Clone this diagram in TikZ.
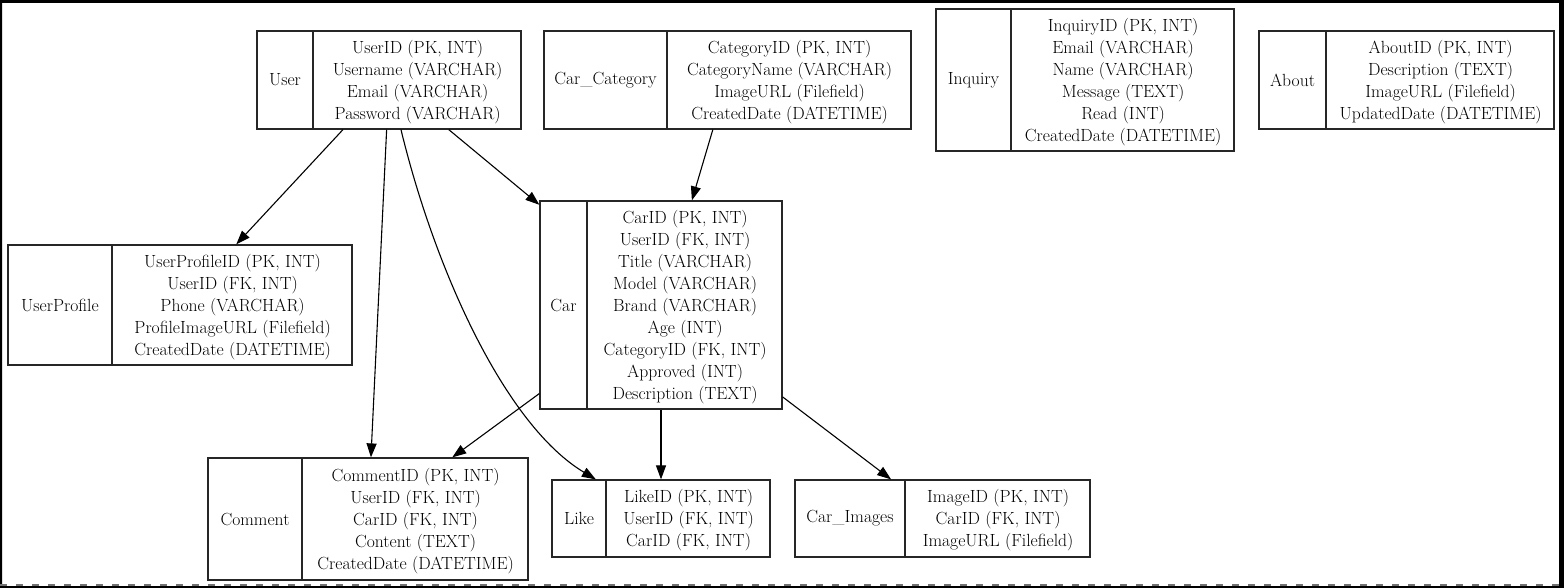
\documentclass[tikz,border=0pt]{standalone}
\usetikzlibrary{arrows.meta, positioning, calc}

\begin{document}
\begin{tikzpicture}[x=1pt, y=-1pt,
        every node/.style={font=\fontsize{17.6pt}{22pt}\selectfont},
        tbl/.style={draw=black!85, line width=1.2pt, rectangle, inner sep=0pt},
        lbl/.style={draw=black!85, line width=1.2pt, rectangle, inner sep=0pt, anchor=west},
        fld/.style={inner sep=0pt, align=center, yshift=-2pt},
        rel/.style={-{Triangle[length=14pt, width=10pt]}, line width=1.1pt}]
        % Frame
        \useasboundingbox (0,0) rectangle (1564,588);
        \fill[black, even odd rule] (0,0) rectangle (1564,588) (2,3) rectangle (1559,586);
        \draw[black!55, line width=2pt, dash pattern=on 7pt off 9pt] (0,585) -- (1559,585);

        % Tables
        \node[tbl, minimum width=264pt, minimum height=98pt] (user) at (389,80) {};
        \node[lbl, minimum width=56pt, minimum height=98pt] (userL) at (user.west) {User};
        \node[fld] (userF) at ($(userL.east)!0.5!(user.east)$) {
            UserID (PK, INT)\\
            Username (VARCHAR)\\
            Email (VARCHAR)\\
            Password (VARCHAR)
        };

        \node[tbl, minimum width=367pt, minimum height=98pt] (ccat) at (727.5,80) {};
        \node[lbl, minimum width=123pt, minimum height=98pt] (ccatL) at (ccat.west) {Car\_Category};
        \node[fld] (ccatF) at ($(ccatL.east)!0.5!(ccat.east)$) {
            CategoryID (PK, INT)\\
            CategoryName (VARCHAR)\\
            ImageURL (Filefield)\\
            CreatedDate (DATETIME)
        };

        \node[tbl, minimum width=298pt, minimum height=142pt] (inq) at (1085,80) {};
        \node[lbl, minimum width=75pt, minimum height=142pt] (inqL) at (inq.west) {Inquiry};
        \node[fld] (inqF) at ($(inqL.east)!0.5!(inq.east)$) {
            InquiryID (PK, INT)\\
            Email (VARCHAR)\\
            Name (VARCHAR)\\
            Message (TEXT)\\
            Read (INT)\\
            CreatedDate (DATETIME)
        };

        \node[tbl, minimum width=295pt, minimum height=98pt] (about) at (1406.5,80) {};
        \node[lbl, minimum width=67pt, minimum height=98pt] (aboutL) at (about.west) {About};
        \node[fld] (aboutF) at ($(aboutL.east)!0.5!(about.east)$) {
            AboutID (PK, INT)\\
            Description (TEXT)\\
            ImageURL (Filefield)\\
            UpdatedDate (DATETIME)
        };

        \node[tbl, minimum width=344pt, minimum height=120pt] (uprof) at (180,305) {};
        \node[lbl, minimum width=104pt, minimum height=120pt] (uprofL) at (uprof.west) {UserProfile};
        \node[fld] (uprofF) at ($(uprofL.east)!0.5!(uprof.east)$) {
            UserProfileID (PK, INT)\\
            UserID (FK, INT)\\
            Phone (VARCHAR)\\
            ProfileImageURL (Filefield)\\
            CreatedDate (DATETIME)
        };

        \node[tbl, minimum width=242pt, minimum height=208pt] (car) at (661,305) {};
        \node[lbl, minimum width=47pt, minimum height=208pt] (carL) at (car.west) {Car};
        \node[fld] (carF) at ($(carL.east)!0.5!(car.east)$) {
            CarID (PK, INT)\\
            UserID (FK, INT)\\
            Title (VARCHAR)\\
            Model (VARCHAR)\\
            Brand (VARCHAR)\\
            Age (INT)\\
            CategoryID (FK, INT)\\
            Approved (INT)\\
            Description (TEXT)
        };

        \node[tbl, minimum width=320pt, minimum height=122pt] (comment) at (368,519) {};
        \node[lbl, minimum width=94pt, minimum height=122pt] (commentL) at (comment.west) {Comment};
        \node[fld] (commentF) at ($(commentL.east)!0.5!(comment.east)$) {
            CommentID (PK, INT)\\
            UserID (FK, INT)\\
            CarID (FK, INT)\\
            Content (TEXT)\\
            CreatedDate (DATETIME)
        };

        \node[tbl, minimum width=218pt, minimum height=77pt] (like) at (661,518.5) {};
        \node[lbl, minimum width=54pt, minimum height=77pt] (likeL) at (like.west) {Like};
        \node[fld] (likeF) at ($(likeL.east)!0.5!(like.east)$) {
            LikeID (PK, INT)\\
            UserID (FK, INT)\\
            CarID (FK, INT)
        };

        \node[tbl, minimum width=295pt, minimum height=77pt] (cimg) at (942.5,518.5) {};
        \node[lbl, minimum width=110pt, minimum height=77pt] (cimgL) at (cimg.west) {Car\_Images};
        \node[fld] (cimgF) at ($(cimgL.east)!0.5!(cimg.east)$) {
            ImageID (PK, INT)\\
            CarID (FK, INT)\\
            ImageURL (Filefield)
        };

        % Arrows
        \draw[rel] (user) -- (uprof);
        \draw[rel] (user) -- (car);
        \draw[rel] (user) -- (comment);
        \draw[rel] (user) .. controls (435,270) and (505,425) .. (like);
        \draw[rel] (ccat) -- (car);
        \draw[rel] (car) -- (comment);
        \draw[rel] (car) -- (like);
        \draw[rel] (car) -- (cimg);
    \end{tikzpicture}
\end{document}
